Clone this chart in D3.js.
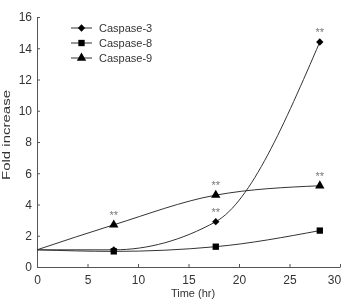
<!DOCTYPE html>
<html>
<head>
<meta charset="utf-8">
<script src="https://cdn.jsdelivr.net/npm/d3@7"></script>
<style>
  body { margin: 0; background: #fff; }
  text { font-family: "Liberation Sans", Arial, sans-serif; fill: #333; }
  svg { filter: grayscale(1); }
</style>
</head>
<body>
<script>
// data
const times = [0, 7.6, 17.7, 28];
const series = ["Caspase-3", "Caspase-8", "Caspase-9"];
const casp3 = [1.1, 1.1, 2.9, 14.4];
const casp8 = [1.1, 1.0, 1.3, 2.33];
const casp9 = [1.1, 2.7, 4.6, 5.2];
const xTicks = [0, 5, 10, 15, 20, 25, 30];
const yTicks = [0, 2, 4, 6, 8, 10, 12, 14, 16];
// significance marks: [series index, time index]
const stars = [[2, 1], [2, 2], [2, 3], [0, 2], [0, 3]];

const width = 341, height = 300;
const svg = d3.select("body").append("svg")
    .attr("width", width)
    .attr("height", height);

const x = d3.scaleLinear().domain([0, 30]).range([37, 340]);
const y = d3.scaleLinear().domain([0, 16]).range([267, 17]);

const values = [casp3, casp8, casp9];
const symbols = [d3.symbolDiamond2, d3.symbolSquare, d3.symbolTriangle];
const symSize = [34, 40, 38];

// axes
const xAxis = svg.append("g")
    .attr("transform", `translate(0,${y(0)})`)
    .call(d3.axisBottom(x).tickValues(xTicks).tickSizeInner(-3).tickSizeOuter(0).tickPadding(8));
const yAxis = svg.append("g")
    .attr("transform", `translate(${x(0)},0)`)
    .call(d3.axisLeft(y).tickValues(yTicks).tickSizeInner(-3).tickSizeOuter(0).tickPadding(5));
[xAxis, yAxis].forEach(a => {
  a.select(".domain").attr("stroke", "#555");
  a.selectAll(".tick line").attr("stroke", "#555");
  a.selectAll(".tick text").attr("font-size", 12).attr("fill", "#333");
});
// last label sits flush with the right edge
xAxis.selectAll(".tick text").filter(d => d === 30).attr("dx", -6);

svg.append("text")
    .attr("x", 193).attr("y", 297)
    .attr("text-anchor", "middle")
    .attr("font-size", 11)
    .text("Time (hr)");
svg.append("text")
    .attr("transform", `translate(10,135) rotate(-90)`)
    .attr("text-anchor", "middle")
    .attr("font-size", 11.5)
    .attr("textLength", 90)
    .attr("lengthAdjust", "spacingAndGlyphs")
    .text("Fold increase");

// curves
const line = d3.line()
    .x(d => x(d[0]))
    .y(d => y(d[1]))
    .curve(d3.curveMonotoneX);

values.forEach((vals, i) => {
  const pts = times.map((t, j) => [t, vals[j]]);
  svg.append("path")
      .attr("d", line(pts))
      .attr("fill", "none")
      .attr("stroke", "#333")
      .attr("stroke-width", 1);
  svg.append("g").selectAll("path")
      .data(pts.slice(1))
      .join("path")
      .attr("d", d3.symbol().type(symbols[i]).size(symSize[i]))
      .attr("transform", d => `translate(${x(d[0])},${y(d[1])})`)
      .attr("fill", "#000");
});

// asterisks
svg.append("g")
    .selectAll("text")
    .data(stars)
    .join("text")
    .attr("x", d => x(times[d[1]]))
    .attr("y", d => y(values[d[0]][d[1]]) - 6)
    .attr("text-anchor", "middle")
    .attr("font-size", 11)
    .style("fill", "#777")
    .text("**");

// legend
const legend = svg.append("g").selectAll("g")
    .data(series)
    .join("g")
    .attr("transform", (d, i) => `translate(71,${28 + i * 15})`);
legend.append("line")
    .attr("x1", 0).attr("x2", 21)
    .attr("stroke", "#333");
legend.append("path")
    .attr("d", (d, i) => d3.symbol().type(symbols[i]).size(symSize[i])())
    .attr("transform", "translate(10.5,0)")
    .attr("fill", "#000");
legend.append("text")
    .attr("x", 28).attr("y", 4)
    .attr("font-size", 11)
    .text(d => d);
</script>
</body>
</html>
